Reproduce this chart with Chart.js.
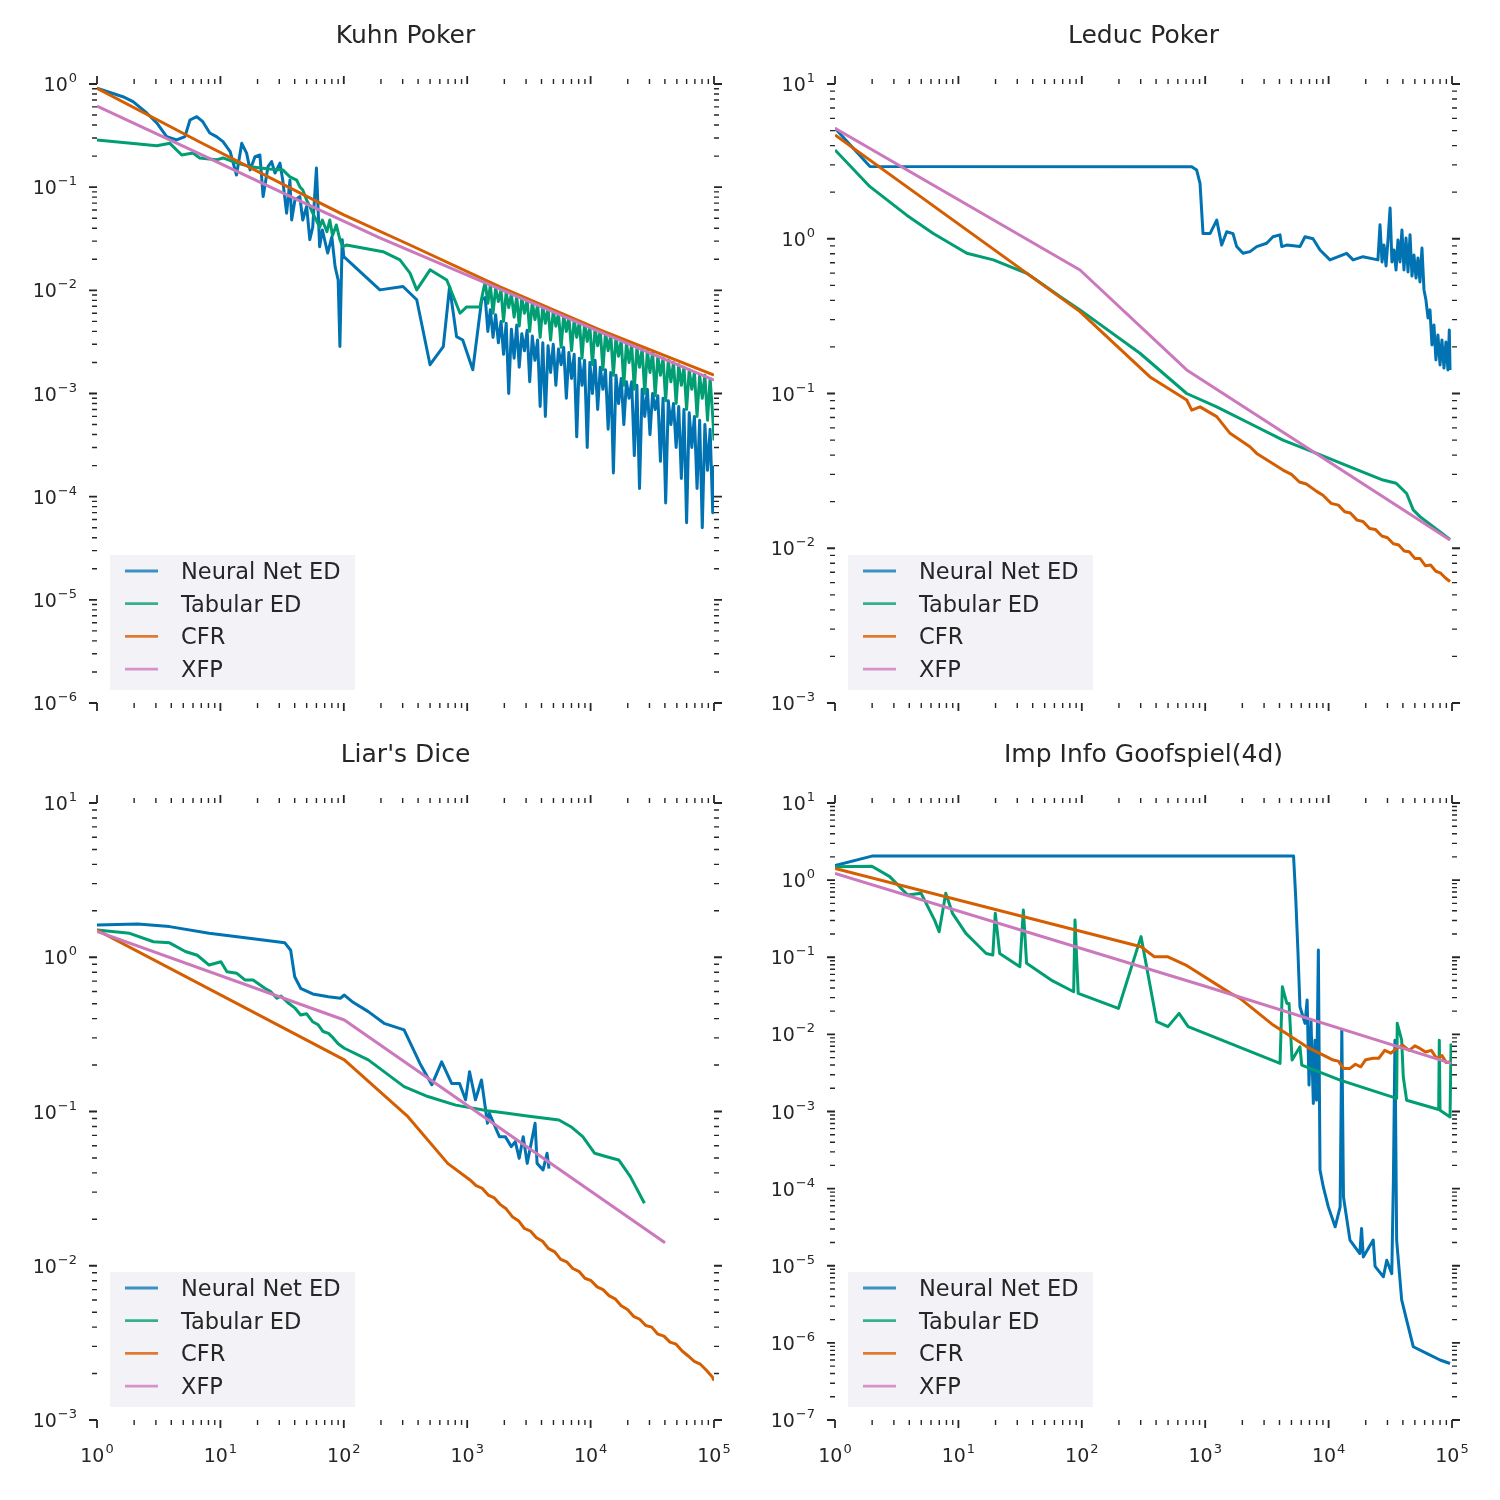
<!DOCTYPE html>
<html>
<head>
  <meta charset="UTF-8">
  <title>Exploitability vs iterations</title>
  <script src="https://cdn.jsdelivr.net/npm/chart.js"></script>
  <style>
    body {
      margin: 0;
      background: #fff;
    }

    #wrap {
      position: relative;
      width: 1500px;
      height: 1500px;
    }

    canvas {
      position: absolute;
    }
  </style>
</head>
<body>
  <div id="wrap">
    <canvas id="kuhn" width="750" height="740" style="left:0;top:0"></canvas>
    <canvas id="leduc" width="750" height="740" style="left:750px;top:0"></canvas>
    <canvas id="liar" width="750" height="770" style="left:0;top:730px"></canvas>
    <canvas id="goof" width="750" height="770" style="left:750px;top:730px"></canvas>
  </div>

  <script>
    // ---- Kuhn Poker ----
    const kuhnNetX = [1, 1.62, 1.96, 2.53, 3.05, 3.67, 4.42, 5.16, 5.67, 6.43, 7.2, 8.2, 9.3, 10.5, 12, 13.5, 14.9, 16.3, 17.4, 19.1, 20.9, 22.2, 24.3, 26, 27.7, 30.4, 32, 34.4, 36.6, 37.8, 40.2, 44, 46.5, 50, 53, 56, 60, 63.7, 67, 74, 80, 85, 90, 93, 97, 100, 196, 302, 390, 500, 640, 720, 820, 920, 1110, 1310];
    const kuhnNetY = [0.91, 0.753, 0.674, 0.524, 0.419, 0.309, 0.287, 0.309, 0.448, 0.482, 0.431, 0.335, 0.309, 0.276, 0.221, 0.131, 0.266, 0.214, 0.147, 0.198, 0.205, 0.081, 0.158, 0.177, 0.137, 0.171, 0.117, 0.056, 0.117, 0.048, 0.075, 0.081, 0.048, 0.065, 0.031, 0.041, 0.153, 0.0265, 0.0385, 0.023, 0.033, 0.017, 0.0126, 0.00285, 0.031, 0.0212, 0.0101, 0.0109, 0.0081, 0.0019, 0.00285, 0.0109, 0.00356, 0.0033, 0.0017, 0.0081];
    const kuhnTabX = [1, 3.05, 3.9, 4.86, 6.0, 6.8, 9.3, 10.5, 13.5, 17.4, 25, 32, 36.6, 41.5, 44, 46.5, 50, 53, 56, 59.8, 63.7, 67, 73, 77, 81, 87, 93, 98, 105, 208, 285, 344, 390, 500, 683, 875, 990, 1270, 1343];
    const kuhnTabY = [0.286, 0.252, 0.266, 0.205, 0.214, 0.192, 0.184, 0.192, 0.172, 0.158, 0.15, 0.147, 0.126, 0.117, 0.101, 0.094, 0.075, 0.065, 0.056, 0.048, 0.041, 0.048, 0.037, 0.048, 0.034, 0.043, 0.031, 0.0265, 0.0275, 0.0237, 0.0197, 0.0147, 0.0101, 0.0158, 0.0126, 0.0060, 0.0069, 0.0069, 0.0097];
    // noisy tail shared by the two ED curves
    const kuhnTailX = [1400, 1470, 1540, 1620, 1700, 1790, 1880, 1970, 2070, 2170, 2280, 2400, 2520, 2640, 2770, 2910, 3060, 3210, 3370, 3540, 3720, 3900, 4100, 4300, 4520, 4740, 4980, 5230, 5490, 5770, 6050, 6360, 6670, 7010, 7360, 7720, 8110, 8520, 8940, 9390, 9860, 10350, 10870, 11410, 11980, 12580, 13210, 13870, 14570, 15300, 16060, 16860, 17710, 18590, 19520, 20500, 21520, 22600, 23730, 24910, 26160, 27470, 28840, 30280, 31800, 33390, 35050, 36810, 38650, 40580, 42610, 44740, 46980, 49330, 51790, 54380, 57100, 59960, 62950, 66100, 69410, 72880, 76520, 80350, 84360, 88580, 93010, 97660, 100000];
    const kuhnNetTail = [0.0085, 0.0040, 0.0065, 0.0035, 0.0058, 0.0031, 0.0050, 0.0024, 0.0048, 0.0010, 0.0042, 0.0022, 0.0046, 0.0018, 0.0038, 0.0026, 0.0041, 0.0013, 0.0036, 0.0021, 0.0033, 0.00075, 0.0031, 0.0006, 0.0029, 0.0016, 0.0030, 0.0012, 0.0027, 0.0019, 0.0028, 0.0009, 0.0025, 0.0014, 0.0024, 0.00038, 0.0022, 0.0012, 0.0021, 0.0003, 0.0020, 0.0010, 0.0021, 0.0007, 0.0018, 0.0011, 0.0017, 0.00045, 0.0016, 0.00017, 0.0015, 0.0008, 0.0014, 0.0005, 0.0013, 0.0009, 0.0013, 0.00025, 0.0012, 0.00012, 0.0011, 0.0006, 0.0011, 0.0004, 0.0010, 0.0007, 0.00095, 0.00022, 0.0009, 0.000087, 0.00085, 0.0005, 0.0008, 0.0003, 0.00075, 0.00015, 0.0007, 0.000056, 0.00065, 0.0003, 0.0006, 0.00012, 0.00055, 0.00005, 0.0005, 0.00018, 0.00045, 0.00007, 0.0002];
    const kuhnTabTail = [0.0120, 0.0075, 0.0112, 0.0060, 0.0105, 0.0078, 0.0100, 0.0050, 0.0096, 0.0068, 0.0092, 0.0055, 0.0088, 0.0045, 0.0085, 0.0060, 0.0080, 0.0040, 0.0077, 0.0052, 0.0073, 0.0035, 0.0070, 0.0048, 0.0067, 0.0033, 0.0063, 0.0045, 0.0060, 0.0028, 0.0057, 0.0040, 0.0055, 0.0026, 0.0052, 0.0035, 0.0050, 0.0022, 0.0048, 0.0032, 0.0045, 0.0019, 0.0043, 0.0029, 0.0041, 0.0017, 0.0039, 0.0026, 0.0037, 0.0015, 0.0035, 0.0023, 0.0033, 0.0012, 0.0031, 0.0020, 0.0030, 0.0011, 0.0028, 0.0018, 0.0027, 0.0010, 0.0026, 0.0016, 0.0025, 0.00095, 0.0023, 0.0015, 0.0022, 0.00085, 0.0021, 0.0013, 0.0020, 0.0008, 0.0019, 0.0012, 0.0018, 0.0007, 0.0017, 0.0011, 0.0016, 0.0006, 0.0015, 0.0009, 0.0015, 0.00055, 0.0014, 0.0006, 0.00035];
    const kuhnCfrX = [1, 6.8, 44, 100, 344, 1845, 11900, 100000];
    const kuhnCfrY = [0.91, 0.274, 0.0879, 0.0538, 0.0275, 0.0108, 0.00413, 0.00151];
    const kuhnXfpX = [1, 6.8, 44, 196, 1845, 11900, 100000];
    const kuhnXfpY = [0.612, 0.21, 0.0735, 0.0322, 0.0103, 0.00395, 0.00135];

    // ---- Leduc Poker ----
    const leducNetX = [1, 1.92, 778, 853, 908, 960, 1094, 1240, 1360, 1494, 1680, 1800, 2024, 2305, 2614, 3150, 3540, 4035, 4170, 4575, 5860, 6440, 7480, 8520, 10260, 14000, 15800, 19000, 25100, 26100, 27100, 28100, 29200, 30300, 31500, 32600, 33900, 35200, 36500, 37900, 39300, 40800, 42400, 44000, 45700, 47400, 49200, 51100, 53000, 55000, 57100, 59300, 61500, 63900, 66300, 68800, 71400, 74100, 76900, 80000, 82900, 86100, 89300, 92700, 95100, 96400];
    const leducNetY = [5.17, 2.93, 2.92, 2.78, 2.28, 1.08, 1.08, 1.32, 0.91, 1.11, 1.08, 0.89, 0.805, 0.826, 0.89, 0.935, 1.03, 1.06, 0.89, 0.91, 0.89, 1.03, 1.0, 0.846, 0.73, 0.805, 0.73, 0.766, 0.73, 1.23, 0.708, 0.912, 0.667, 0.982, 1.58, 0.708, 0.846, 0.628, 0.982, 0.708, 1.14, 0.628, 1.01, 0.61, 1.06, 0.574, 0.785, 0.557, 0.751, 0.526, 0.871, 0.467, 0.402, 0.308, 0.347, 0.206, 0.277, 0.165, 0.239, 0.153, 0.222, 0.146, 0.215, 0.142, 0.257, 0.142];
    const leducTabX = [1, 1.92, 3.81, 6.26, 11.7, 19.2, 35.8, 66.6, 96.7, 296, 708, 1240, 2305, 4270, 8000, 14900, 27600, 35300, 42900, 48500, 55000, 96400];
    const leducTabY = [3.75, 2.17, 1.42, 1.08, 0.805, 0.73, 0.598, 0.423, 0.347, 0.182, 0.1, 0.082, 0.064, 0.05, 0.041, 0.0336, 0.0276, 0.0263, 0.0226, 0.0177, 0.016, 0.0114];
    const leducCfrX = [1, 96.7, 357, 708, 778, 908, 1240, 1590, 2305, 2614, 4270, 5000, 5800, 6600, 8000, 9000, 10500, 12000, 13500, 15000, 17000, 19000, 21500, 24000, 27000, 30000, 33500, 37000, 41000, 45000, 50000, 55000, 61000, 67000, 74000, 81000, 89000, 96400];
    const leducCfrY = [4.69, 0.338, 0.128, 0.0908, 0.078, 0.082, 0.0709, 0.0553, 0.0453, 0.041, 0.032, 0.0300, 0.0268, 0.0260, 0.0233, 0.0220, 0.0195, 0.0190, 0.0172, 0.0169, 0.0152, 0.0149, 0.0134, 0.0132, 0.0120, 0.0117, 0.0107, 0.0105, 0.0096, 0.0095, 0.0086, 0.0086, 0.0077, 0.0078, 0.0071, 0.0069, 0.0064, 0.0061];
    const leducXfpX = [1, 96.7, 708, 96400];
    const leducXfpY = [5.17, 0.628, 0.142, 0.0113];

    // ---- Liar's Dice ----
    const liarNetX = [1, 2.14, 3.87, 8.1, 17.1, 33.3, 37.1, 40, 44.7, 55.9, 75.2, 93.8, 101, 117, 158, 212, 308, 414, 517, 621, 748, 867, 970, 1045, 1167, 1305, 1460, 1513, 1823, 2035, 2277, 2452, 2640, 2843, 3064, 3550, 3683, 4119, 4437, 4600];
    const liarNetY = [1.62, 1.64, 1.58, 1.43, 1.33, 1.24, 1.11, 0.748, 0.629, 0.578, 0.555, 0.542, 0.569, 0.515, 0.444, 0.373, 0.338, 0.205, 0.149, 0.21, 0.152, 0.152, 0.119, 0.181, 0.119, 0.16, 0.0838, 0.0973, 0.0687, 0.0687, 0.0592, 0.0637, 0.0497, 0.0687, 0.0461, 0.0838, 0.0461, 0.0418, 0.0536, 0.0426];
    const liarTabX = [1, 1.84, 2.87, 3.87, 5.2, 6.5, 8.1, 10.1, 11.3, 13.6, 15.8, 18.4, 22.9, 25.5, 28.7, 31, 35.8, 40, 44.7, 50, 55.9, 62, 68, 75.2, 82, 90, 101, 158, 308, 480, 807, 1460, 2113, 3064, 5546, 6924, 8640, 10800, 13500, 16900, 21000, 27300];
    const liarTabY = [1.5, 1.43, 1.26, 1.24, 1.09, 1.03, 0.89, 0.935, 0.806, 0.787, 0.713, 0.713, 0.63, 0.60, 0.542, 0.56, 0.503, 0.47, 0.422, 0.43, 0.382, 0.365, 0.33, 0.321, 0.30, 0.275, 0.257, 0.216, 0.145, 0.125, 0.110, 0.101, 0.0974, 0.0935, 0.0881, 0.0797, 0.0687, 0.0536, 0.0509, 0.0485, 0.0378, 0.0254];
    const liarCfrX = [1, 101, 331, 695, 1054, 1180, 1320, 1480, 1660, 1845, 2070, 2320, 2600, 2900, 3250, 3640, 4080, 4570, 5120, 5730, 6400, 7170, 8030, 9000, 10100, 11300, 12600, 14100, 15800, 17700, 19900, 22300, 25000, 28000, 31300, 35100, 39300, 44000, 49300, 55200, 61800, 69200, 77500, 86800, 97000, 100000];
    const liarCfrY = [1.5, 0.216, 0.0925, 0.0461, 0.036, 0.0331, 0.0318, 0.0287, 0.0275, 0.0250, 0.0234, 0.0208, 0.0196, 0.0175, 0.0168, 0.0152, 0.0144, 0.0129, 0.0123, 0.0110, 0.0106, 0.0096, 0.0092, 0.0083, 0.0080, 0.0073, 0.0070, 0.0064, 0.0061, 0.0055, 0.0052, 0.0047, 0.0045, 0.0041, 0.0040, 0.0036, 0.0035, 0.0032, 0.0031, 0.0028, 0.0026, 0.0024, 0.0023, 0.0021, 0.0019, 0.0018];
    const liarXfpX = [1, 101, 40100];
    const liarXfpY = [1.47, 0.392, 0.0141];

    // ---- Imp Info Goofspiel(4d) ----
    const goofNetX = [1, 1.99, 5200, 5410, 5650, 5860, 6440, 6700, 6940, 7200, 7520, 7760, 7980, 8260, 8520, 9060, 9950, 11300, 12400, 12800, 13200, 14900, 17900, 18500, 19100, 23000, 23800, 27800, 29600, 32500, 33500, 34500, 35600, 39100, 42900, 48600, 62300, 80000, 96400];
    const goofNetY = [1.54, 2.05, 2.05, 0.61, 0.1125, 0.0228, 0.0139, 0.0279, 0.0022, 0.0153, 0.00127, 0.0084, 0.0014, 0.124, 1.74e-4, 1.05e-4, 5.8e-5, 3.2e-5, 5.8e-5, 0.0114, 7.8e-5, 2.15e-5, 1.44e-5, 3.05e-5, 1.3e-5, 2.15e-5, 9.8e-6, 7.2e-6, 1.18e-5, 7.9e-6, 1.29e-4, 0.0084, 2.15e-5, 3.6e-6, 1.97e-6, 8.9e-7, 7.3e-7, 6.0e-7, 5.4e-7];
    const goofTabX = [1, 1.99, 2.78, 3.88, 4.99, 6.41, 6.98, 7.9, 8.96, 11.5, 14.8, 16.8, 19.0, 19.9, 21.6, 31.5, 33.6, 35.7, 56.5, 85.9, 88.1, 93.5, 198, 302, 405, 499, 614, 727, 4040, 4220, 4590, 4780, 5060, 5860, 6060, 12400, 35600, 36000, 39100, 40300, 42900, 78000, 78900, 80000, 96400, 98300];
    const goofTabY = [1.49, 1.51, 1.11, 0.641, 0.674, 0.303, 0.214, 0.674, 0.371, 0.204, 0.137, 0.112, 0.107, 0.371, 0.112, 0.0753, 0.409, 0.0834, 0.0506, 0.0357, 0.303, 0.034, 0.0217, 0.185, 0.0146, 0.0126, 0.0187, 0.0126, 0.0042, 0.0414, 0.0252, 0.0252, 0.00464, 0.0069, 0.004, 0.00255, 0.00148, 0.0139, 0.0084, 0.0028, 0.0014, 0.00106, 0.0084, 0.00104, 0.00085, 0.0076];
    const goofCfrX = [1, 302, 387, 499, 697, 1610, 1915, 3560, 6650, 10900, 12000, 13200, 14900, 16500, 18200, 20000, 23000, 25500, 28500, 32000, 35600, 40000, 45000, 50000, 55000, 61000, 68000, 75000, 83000, 90000, 96400];
    const goofCfrY = [1.42, 0.137, 0.1014, 0.1014, 0.0793, 0.034, 0.0293, 0.0132, 0.0069, 0.00464, 0.0045, 0.0036, 0.00362, 0.0041, 0.0038, 0.0047, 0.00489, 0.0049, 0.0062, 0.0057, 0.00658, 0.0072, 0.0062, 0.0071, 0.00658, 0.0059, 0.0062, 0.0049, 0.0053, 0.0043, 0.00441];
    const goofXfpX = [1, 1000, 98600];
    const goofXfpY = [1.22, 0.042, 0.0042];

    const seriesNames = ['Neural Net ED', 'Tabular ED', 'CFR', 'XFP'];
    const seriesColors = ['#0173b2', '#029e73', '#d55e00', '#cc78bc'];
    const legendColors = ['#3d8fc4', '#34b08c', '#e07a33', '#d692c9'];

    const FONT = '"DejaVu Sans", sans-serif';
    const INK = '#262626';

    function pts(xs, ys) {
      return xs.map((x, i) => ({ x: x, y: ys[i] }));
    }

    function logTicks(min, max) {
      const out = [];
      const lo = Math.floor(Math.log10(min) + 1e-9);
      const hi = Math.ceil(Math.log10(max) - 1e-9);
      for (let d = lo; d <= hi; d++) {
        for (let k = 1; k <= 9; k++) {
          const v = k * Math.pow(10, d);
          if (v >= min * 0.999 && v <= max * 1.001) out.push({ v: v, major: k === 1, d: d });
        }
      }
      return out;
    }

    function powLabel(ctx, d, x, y, align) {
      const exp = d < 0 ? '\u2212' + (-d) : String(d);
      ctx.font = '19px ' + FONT;
      const wb = ctx.measureText('10').width;
      ctx.font = '13px ' + FONT;
      const we = ctx.measureText(exp).width;
      const w = wb + 1 + we;
      const x0 = align === 'right' ? x - w : x - w / 2;
      ctx.textAlign = 'left';
      ctx.textBaseline = 'alphabetic';
      ctx.font = '19px ' + FONT;
      ctx.fillText('10', x0, y + 7);
      ctx.font = '13px ' + FONT;
      ctx.fillText(exp, x0 + wb + 1, y - 2);
    }

    // ticks on four sides, log labels, title and the boxed legend
    const panelPlugin = {
      id: 'panel',
      afterDraw(chart, args, opts) {
        const ctx = chart.ctx;
        const a = chart.chartArea;
        const xs = chart.scales.x, ys = chart.scales.y;
        ctx.save();
        ctx.strokeStyle = INK;
        ctx.fillStyle = INK;

        logTicks(xs.min, xs.max).forEach(t => {
          const px = xs.getPixelForValue(t.v);
          const len = t.major ? 8 : 5;
          ctx.lineWidth = t.major ? 1.8 : 1.4;
          ctx.beginPath();
          ctx.moveTo(px, a.top); ctx.lineTo(px, a.top - len);
          ctx.moveTo(px, a.bottom); ctx.lineTo(px, a.bottom + len);
          ctx.stroke();
          if (t.major && opts.xLabels) powLabel(ctx, t.d, px, a.bottom + 35, 'center');
        });

        logTicks(ys.min, ys.max).forEach(t => {
          const py = ys.getPixelForValue(t.v);
          const len = t.major ? 8 : 5;
          ctx.lineWidth = t.major ? 1.8 : 1.4;
          ctx.beginPath();
          ctx.moveTo(a.left, py); ctx.lineTo(a.left - len, py);
          ctx.moveTo(a.right, py); ctx.lineTo(a.right + len, py);
          ctx.stroke();
          if (t.major) powLabel(ctx, t.d, a.left - 20, py, 'right');
        });

        ctx.font = '25px ' + FONT;
        ctx.textAlign = 'center';
        ctx.textBaseline = 'alphabetic';
        ctx.fillText(opts.title, (a.left + a.right) / 2, a.top - 41);

        const bx = a.left + 13, by = a.bottom - 148;
        ctx.fillStyle = '#f3f3f7';
        ctx.fillRect(bx, by, 245, 135);
        seriesNames.forEach((name, i) => {
          const ry = by + 16 + i * 32.7;
          ctx.strokeStyle = legendColors[i];
          ctx.lineWidth = 2.8;
          ctx.beginPath();
          ctx.moveTo(a.left + 28, ry); ctx.lineTo(a.left + 61, ry);
          ctx.stroke();
          ctx.fillStyle = INK;
          ctx.font = '22.5px ' + FONT;
          ctx.textAlign = 'left';
          ctx.fillText(name, a.left + 84, ry + 8);
        });
        ctx.restore();
      }
    };

    function makePanel(id, title, yMin, yMax, pad, xLabels, series) {
      return new Chart(document.getElementById(id), {
        type: 'line',
        data: {
          datasets: series.map((s, i) => ({
            label: seriesNames[i],
            data: s,
            borderColor: seriesColors[i],
            borderWidth: 3,
            borderJoinStyle: 'round',
            pointRadius: 0,
            tension: 0,
            fill: false,
            order: 4 - i
          }))
        },
        options: {
          responsive: false,
          animation: false,
          devicePixelRatio: 1,
          layout: { padding: pad },
          plugins: {
            legend: { display: false },
            tooltip: { enabled: false },
            panel: { title: title, xLabels: xLabels }
          },
          scales: {
            x: { type: 'logarithmic', min: 1, max: 1e5, display: false },
            y: { type: 'logarithmic', min: yMin, max: yMax, display: false }
          }
        },
        plugins: [panelPlugin]
      });
    }

    makePanel('kuhn', 'Kuhn Poker', 1e-6, 1, { left: 97, top: 84, right: 36, bottom: 37 }, false, [
      pts(kuhnNetX.concat(kuhnTailX), kuhnNetY.concat(kuhnNetTail)),
      pts(kuhnTabX.concat(kuhnTailX), kuhnTabY.concat(kuhnTabTail)),
      pts(kuhnCfrX, kuhnCfrY),
      pts(kuhnXfpX, kuhnXfpY)
    ]);

    makePanel('leduc', 'Leduc Poker', 1e-3, 10, { left: 85, top: 84, right: 48, bottom: 37 }, false, [
      pts(leducNetX, leducNetY),
      pts(leducTabX, leducTabY),
      pts(leducCfrX, leducCfrY),
      pts(leducXfpX, leducXfpY)
    ]);

    makePanel('liar', "Liar's Dice", 1e-3, 10, { left: 97, top: 73, right: 36, bottom: 80 }, true, [
      pts(liarNetX, liarNetY),
      pts(liarTabX, liarTabY),
      pts(liarCfrX, liarCfrY),
      pts(liarXfpX, liarXfpY)
    ]);

    makePanel('goof', 'Imp Info Goofspiel(4d)', 1e-7, 10, { left: 85, top: 73, right: 48, bottom: 80 }, true, [
      pts(goofNetX, goofNetY),
      pts(goofTabX, goofTabY),
      pts(goofCfrX, goofCfrY),
      pts(goofXfpX, goofXfpY)
    ]);
  </script>
</body>
</html>
